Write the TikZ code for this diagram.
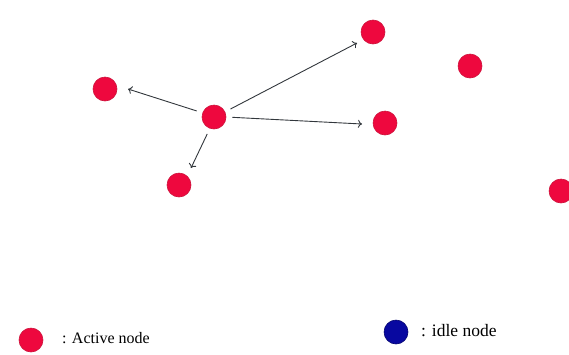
\documentclass[tikz,border=0pt]{standalone}
\usepackage{fontspec}
\setmainfont{Liberation Serif}
\usetikzlibrary{arrows.meta}
\definecolor{actred}{RGB}{238,8,62}
\definecolor{actedge}{RGB}{205,20,60}
\definecolor{idleblue}{RGB}{8,8,160}
\definecolor{arrgray}{RGB}{50,55,60}
\begin{document}
\begin{tikzpicture}[x=1pt,y=-1pt,
  active/.style={circle,fill=actred,draw=actedge,line width=0.6pt,minimum size=24pt,inner sep=0pt},
  idle/.style={circle,fill=idleblue,draw=idleblue!70!black,line width=0.6pt,minimum size=24pt,inner sep=0pt},
  link/.style={draw=arrgray,line width=0.9pt,-{To[length=4pt,width=8pt]},shorten <=6pt},
  lbl/.style={anchor=west,inner sep=0pt,font=\fontsize{16}{18}\selectfont}]
\path[use as bounding box] (0,0) rectangle (569,354);
\clip (0,0) rectangle (569,354);
\node[active] (c) at (214,117) {};
\node[active] (l) at (105,89) {};
\node[active] (t) at (373,32) {};
\node[active] (r) at (385,123) {};
\node[active] (b) at (179,185) {};
\node[active] (ftr) at (470,66) {};
\node[active] (fr) at (561,191) {};
\coordinate (le) at (128,89);
\coordinate (te) at (357,43);
\coordinate (re) at (362,124);
\coordinate (be) at (191,168);
\draw[link] (c.160) -- (le);
\draw[link] (c.25) -- (te);
\draw[link] (c.0) -- (re);
\draw[link] (c.250) -- (be);
\node[active] (la) at (31,340) {};
\node[lbl] (lat) at (62,338) {: Active node};
\node[idle] (li) at (396,332) {};
\node[lbl,font=\fontsize{17.5}{20}\selectfont] (lit) at (421,331) {: idle node};
\end{tikzpicture}
\end{document}
